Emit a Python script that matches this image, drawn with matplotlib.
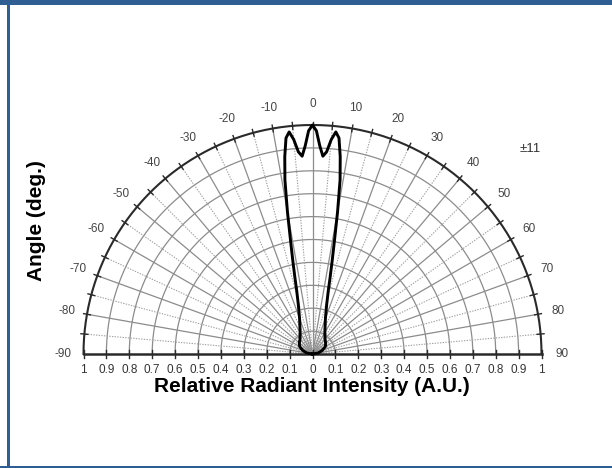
import numpy as np
import matplotlib
matplotlib.use("Agg")
import matplotlib.pyplot as plt
from matplotlib.patches import Rectangle

plt.rcParams['font.family'] = ['Liberation Sans', 'DejaVu Sans']

# radiation pattern (angle in degrees, relative intensity)
angles = [-90, -80, -70, -60, -50, -40, -30, -25, -20, -18, -16, -14, -13, -12, -11, -10,
          -9, -8, -7, -6, -5, -4, -3, -2, -1, 0,
          1, 2, 3, 4, 5, 6, 7, 8, 9, 10, 11, 12, 13, 14, 16, 18, 20, 25, 30, 40, 50, 60, 70, 80, 90]
intensity = [0.0, 0.025, 0.045, 0.065, 0.075, 0.085, 0.108, 0.13, 0.165, 0.19, 0.225, 0.285, 0.34, 0.41, 0.50, 0.63,
             0.77, 0.87, 0.95, 0.975, 0.94, 0.885, 0.865, 0.91, 0.975, 1.0,
             0.975, 0.91, 0.865, 0.885, 0.94, 0.975, 0.95, 0.87, 0.77, 0.63, 0.50, 0.41, 0.34, 0.285, 0.225, 0.19, 0.165, 0.13, 0.108, 0.085, 0.075, 0.065, 0.045, 0.025, 0.0]

angle_labels = [-90, -80, -70, -60, -50, -40, -30, -20, -10, 0, 10, 20, 30, 40, 50, 60, 70, 80, 90]
radius_ticks = [-1, -0.9, -0.8, -0.7, -0.6, -0.5, -0.4, -0.3, -0.2, -0.1, 0,
                0.1, 0.2, 0.3, 0.4, 0.5, 0.6, 0.7, 0.8, 0.9, 1]
radius_labels = ['1', '0.9', '0.8', '0.7', '0.6', '0.5', '0.4', '0.3', '0.2', '0.1', '0',
                 '0.1', '0.2', '0.3', '0.4', '0.5', '0.6', '0.7', '0.8', '0.9', '1']
half_angle_text = '±11'

W, H = 612, 468
cx, cy, R = 312.5, 354, 229.0

fig = plt.figure(figsize=(W / 100, H / 100), dpi=100)
ax = fig.add_axes([0, 0, 1, 1])
ax.set_xlim(-cx / R, (W - cx) / R)
ax.set_ylim((cy - H) / R, cy / R)
ax.axis('off')

th = np.radians(np.linspace(-90, 90, 361))
# circles
for r in np.arange(0.1, 1.0, 0.1):
    ax.plot(r * np.sin(th), r * np.cos(th), color='#8c8c8c', lw=0.9, zorder=1)
# radial lines
for a in range(-85, 90, 5):
    t = np.radians(a)
    if a % 10 == 0:
        ax.plot([0, np.sin(t)], [0, np.cos(t)], color='#8c8c8c', lw=0.9, zorder=1)
    else:
        ax.plot([0, np.sin(t)], [0, np.cos(t)], color='#a0a0a0', lw=0.8, ls=(0, (1.2, 1.2)), zorder=1)

# outer arc and ticks
ax.plot(np.sin(th), np.cos(th), color='#2a2a2a', lw=1.5, zorder=2)
for a in range(-85, 90, 5):
    t = np.radians(a)
    ax.plot([0.985 * np.sin(t), 1.015 * np.sin(t)], [0.985 * np.cos(t), 1.015 * np.cos(t)],
            color='#2a2a2a', lw=1.0, zorder=2)

# baseline with ticks
ax.plot([-1, 1], [0, 0], color='#2a2a2a', lw=1.8, zorder=2)
for x, lab in zip(radius_ticks, radius_labels):
    ax.plot([x, x], [-0.018, 0.018], color='#2a2a2a', lw=1.0, zorder=2)
    ax.text(x, -0.07, lab, ha='center', va='center', fontsize=8.5, color='#333333')

# angle labels
for a in angle_labels:
    t = np.radians(a)
    ax.text(1.09 * np.sin(t), 1.09 * np.cos(t), str(a), ha='center', va='center',
            fontsize=8.5, color='#444444')

# pattern
t = np.radians(angles)
r = np.array(intensity)
ax.plot(r * np.sin(t), r * np.cos(t), color='black', lw=2.1, zorder=3, solid_joinstyle='round')

ax.text((530 - cx) / R, (cy - 149) / R, half_angle_text, ha='center', va='center',
        fontsize=9.5, color='#333333')

fig.text(312 / W, 1 - 387 / H, 'Relative Radiant Intensity (A.U.)', ha='center', va='center',
         fontsize=15, fontweight='bold')
fig.text(37 / W, 1 - 221 / H, 'Angle (deg.)', ha='center', va='center', rotation=90,
         fontsize=15, fontweight='bold')

# blue frame
blue = '#2f5e92'
fig.add_artist(Rectangle((0, 1 - 5 / H), 1, 5 / H, transform=fig.transFigure, color=blue, lw=0))
fig.add_artist(Rectangle((7 / W, 0), 2.5 / W, 1, transform=fig.transFigure, color=blue, lw=0))
fig.add_artist(Rectangle((0, 0), 1, 2 / H, transform=fig.transFigure, color=blue, lw=0))

fig.savefig('out.png', dpi=100)
